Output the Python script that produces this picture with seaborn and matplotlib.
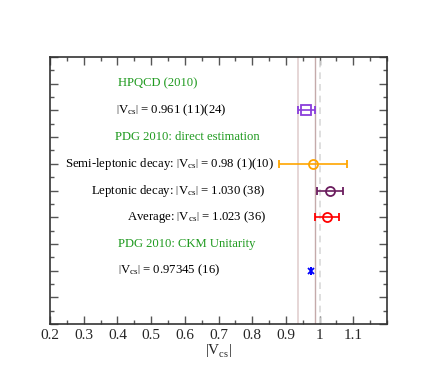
import numpy as np
import matplotlib
matplotlib.use("Agg")
import matplotlib.pyplot as plt
from matplotlib.ticker import MultipleLocator
import seaborn as sns

# |Vcs| determinations
labels = ["HPQCD", "Semi-leptonic", "Leptonic", "Average", "CKM Unitarity"]
vcs = [0.961, 0.98, 1.030, 1.023, 0.97345]
vcs_err = [np.hypot(0.011, 0.024), np.hypot(0.01, 0.10), 0.038, 0.036, 0.00016]
rows = [8, 6, 5, 4, 2]
colors = ["#8a3ddb", "#ffa500", "#6b1d5e", "#ff0000", "#0000ff"]
markers = ["s", "o", "o", "o", "x"]

V = r"$\left|\mathrm{V}_{\mathrm{cs}}\right|$"
texts = [
    V + " = 0.961 (11)(24)",
    "Semi-leptonic decay: " + V + " = 0.98 (1)(10)",
    "Leptonic decay: " + V + " = 1.030 (38)",
    "Average: " + V + " = 1.023 (36)",
    V + " = 0.97345 (16)",
]
text_x = [0.559, 0.556, 0.580, 0.634, 0.553]

headers = ["HPQCD (2010)", "PDG 2010: direct estimation", "PDG 2010: CKM Unitarity"]
header_rows = [9, 7, 3]
header_x = [0.521, 0.607, 0.607]

# HPQCD band edges
band = [vcs[0] - vcs_err[0], vcs[0] + vcs_err[0]]

sns.set_style("ticks")
plt.rcParams["font.family"] = ["Liberation Serif", "DejaVu Serif"]
plt.rcParams["mathtext.fontset"] = "custom"
plt.rcParams["mathtext.rm"] = "Liberation Serif"
plt.rcParams["mathtext.it"] = "Liberation Serif:italic"

fig = plt.figure(figsize=(4.36, 3.82), dpi=100)
ax = fig.add_axes([0.1147, 0.1518, 0.7729, 0.699])

ax.axvline(band[0], color="#e2cfcf", lw=1.2, zorder=1)
ax.axvline(band[1], color="#c4aaaa", lw=1.0, zorder=1)
ax.axvline(1.0, color="#d9d9d9", lw=1.2, ls=(0, (4, 3)), zorder=1)

for v, e, r, c, m in zip(vcs, vcs_err, rows, colors, markers):
    ax.errorbar(v, r, xerr=e, fmt=m, color=c, mfc="none" if m != "x" else c,
                mec=c, ms=6.5 if m != "x" else 5, mew=1.3, elinewidth=1.2,
                capsize=3, capthick=1.2, zorder=3)

for t, x, r in zip(texts, text_x, rows):
    ax.text(x, r, t, ha="center", va="center", fontsize=9.2, color="black")
for h, x, r in zip(headers, header_x, header_rows):
    ax.text(x, r, h, ha="center", va="center", fontsize=9.1, color="#1f9a1f")

ax.set_xlim(0.2, 1.2)
ax.set_ylim(0, 10)
ax.xaxis.set_minor_locator(MultipleLocator(0.05))
ax.yaxis.set_major_locator(MultipleLocator(1))
ax.yaxis.set_minor_locator(MultipleLocator(0.5))
ax.set_xticks(np.arange(0.2, 1.15, 0.1))
ax.set_xticklabels(["0.2", "0.3", "0.4", "0.5", "0.6", "0.7", "0.8", "0.9", "1", "1.1"])
ax.set_yticklabels([])
ax.tick_params(which="both", direction="in", top=True, right=True, labelsize=11,
               color="#555555")
ax.tick_params(which="major", length=6, width=1)
ax.tick_params(which="minor", length=3, width=1)
for s in ax.spines.values():
    s.set_linewidth(1.2)
    s.set_color("#333333")
ax.set_xlabel(V, fontsize=11, labelpad=0)

fig.savefig("out.png", dpi=100)
